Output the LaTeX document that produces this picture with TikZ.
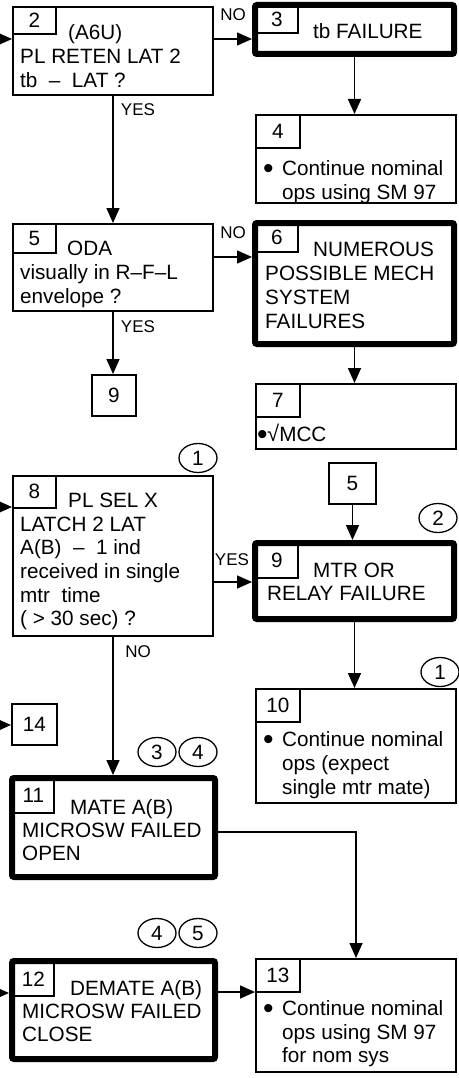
\documentclass[tikz,border=0pt]{standalone}
\usepackage{fontspec}
\setmainfont{Liberation Sans}
\usetikzlibrary{arrows.meta,shapes.geometric}
\newcommand\msz{\fontsize{20.7pt}{24pt}\selectfont}
\newcommand\lsz{\fontsize{17pt}{20pt}\selectfont}
\newcommand\frst{\rule{0pt}{18pt}}
\newcommand\bigbul{\raisebox{-3pt}{\scalebox{1.45}{•}}}
\begin{document}
\begin{tikzpicture}[x=1pt,y=-1pt,
  bx/.style 2 args={draw,line width=1.6pt,minimum width={#1pt-1.6pt},minimum height={#2pt-1.6pt},inner sep=0pt,anchor=north west,font=\msz},
  tbx/.style 2 args={draw,line width=6pt,rounded corners=2pt,minimum width={#1pt-6pt},minimum height={#2pt-6pt},inner sep=0pt,anchor=north west},
  tab/.style 2 args={draw,line width=1.6pt,minimum width={#1pt},minimum height={#2pt},inner sep=0pt,anchor=north west,font=\msz},
  txt/.style={anchor=north west,inner sep=0pt,align=left,font=\msz},
  lbl/.style={inner sep=0pt,font=\lsz},
  circ/.style={draw,ellipse,line width=1.3pt,minimum width=38pt,minimum height=29pt,inner sep=0pt,font=\msz},
  arr/.style={line width=1.6pt,-{Triangle[length=15pt,width=13pt]}}
]
\useasboundingbox (0,0) rectangle (458,1078);

% box 2
\node[bx={202}{90}] (b2) at (12,6) {};
\node[tab={43}{27}] (n2) at (12,6) {2};
\node[txt] (t2) at (20,21) {\frst\hspace*{48pt}(A6U)\\PL RETEN LAT 2\\tb\ \ –\ \ LAT ?};
% box 3
\node[tbx={205}{55}] (b3) at (252,2) {};
\node[tab={42}{27}] (n3) at (255,5) {3};
\node[txt] (t3) at (313,20) {\frst tb FAILURE};
% box 4
\node[bx={202}{90}] (b4) at (255,114) {};
\node[tab={44}{33}] (n4) at (255,114) {4};
\node[txt] (t4) at (263,157) {\frst\makebox[19pt][l]{\bigbul}Continue nominal\\\hspace*{19pt}ops using SM 97};
% box 5
\node[bx={202}{89}] (b5) at (12,223) {};
\node[tab={43}{29}] (n5) at (12,223) {5};
\node[txt] (t5) at (20,237) {\frst\hspace*{47pt}ODA\\visually in R–F–L\\envelope ?};
% box 6
\node[tbx={205}{127}] (b6) at (252,220) {};
\node[tab={42}{28}] (n6) at (255,223) {6};
\node[txt] (t6) at (265,238) {\frst\hspace*{48pt}NUMEROUS\\POSSIBLE MECH\\SYSTEM\\FAILURES};
% small 9
\node[bx={46}{43}] (s9) at (91,374) {9};
% box 7
\node[bx={202}{67}] (b7) at (255,383) {};
\node[tab={44}{33}] (n7) at (255,383) {7};
\node[txt] (t7) at (257,423) {\frst\makebox[10pt][l]{\bigbul}{\fontsize{22pt}{24pt}\selectfont √}MCC};
% box 8
\node[circ] (c1a) at (198,458) {1};
\node[bx={202}{162}] (b8) at (12,475) {};
\node[tab={43}{32}] (n8) at (12,475) {8};
\node[txt,font=\fontsize{20.7pt}{23.6pt}\selectfont] (t8) at (20,489.5) {\frst\hspace*{48pt}PL SEL X\\LATCH 2 LAT\\A(B)\ \ –\ \ 1 ind\\received in single\\mtr\ \ time\\( > 30 sec) ?};
% small 5
\node[bx={49}{43}] (s5) at (328,462) {5};
% box 9
\node[circ] (c2) at (438,518) {2};
\node[tbx={205}{82}] (b9) at (252,540) {};
\node[tab={42}{34}] (n9) at (255,543) {9};
\node[txt,font=\fontsize{20.7pt}{23pt}\selectfont] (t9) at (267,559.5) {\frst\hspace*{46pt}MTR OR\\RELAY FAILURE};
% box 10
\node[circ] (c1b) at (440,672) {1};
\node[bx={202}{116}] (b10) at (255,688) {};
\node[tab={44}{33}] (n10) at (255,688) {10};
\node[txt] (t10) at (263,728) {\frst\makebox[19pt][l]{\bigbul}Continue nominal\\\hspace*{19pt}ops (expect\\\hspace*{19pt}single mtr mate)};
% box 14
\node[bx={47}{43}] (b14) at (11,703) {14};
% box 11
\node[circ] (c3) at (157,752) {3};
\node[circ] (c4a) at (198,752) {4};
\node[tbx={209}{105}] (b11) at (9,775) {};
\node[tab={41}{34}] (n11) at (12,778) {11};
\node[txt,font=\fontsize{20.7pt}{23pt}\selectfont] (t11) at (22,796.5) {\frst\hspace*{48pt}MATE A(B)\\MICROSW FAILED\\OPEN};
% box 12
\node[circ] (c4b) at (157,933) {4};
\node[circ] (c5) at (198,933) {5};
\node[tbx={209}{104}] (b12) at (9,958) {};
\node[tab={41}{34}] (n12) at (12,961) {12};
\node[txt,font=\fontsize{20.7pt}{23pt}\selectfont] (t12) at (22,977.5) {\frst\hspace*{48pt}DEMATE A(B)\\MICROSW FAILED\\CLOSE};
% box 13
\node[bx={202}{115}] (b13) at (255,958) {};
\node[tab={44}{33}] (n13) at (255,958) {13};
\node[txt,font=\fontsize{20.7pt}{23.5pt}\selectfont] (t13) at (263,997.5) {\frst\makebox[19pt][l]{\bigbul}Continue nominal\\\hspace*{19pt}ops using SM 97\\\hspace*{19pt}for nom sys};

% labels
\node[lbl] (l1) at (233,15) {NO};
\node[lbl] (l2) at (138,110) {YES};
\node[lbl] (l3) at (233,233) {NO};
\node[lbl] (l4) at (138,327) {YES};
\node[lbl] (l5) at (232,560) {YES};
\node[lbl] (l6) at (138,652) {NO};

% connectors
\coordinate (in2) at (0,39);
\draw[arr] (in2) -- (in2 -| b2.west);
\draw[arr] (in2 -| b2.east) -- (in2 -| b3.west);
\draw[arr] (b2.south) -- (b2.south |- b5.north);
\draw[arr] (b3.south) -- (b3.south |- b4.north);
\coordinate (r56) at (0,257);
\draw[arr] (r56 -| b5.east) -- (r56 -| b6.west);
\draw[arr] (b5.south) -- (b5.south |- s9.north);
\draw[arr] (b6.south) -- (b6.south |- b7.north);
\coordinate (in8) at (0,507);
\draw[arr] (in8) -- (in8 -| b8.west);
\draw[arr] (s5.south) -- (s5.south |- b9.north);
\coordinate (r89) at (0,582);
\draw[arr] (r89 -| b8.east) -- (r89 -| b9.west);
\draw[arr] (b9.south) -- (b9.south |- b10.north);
\coordinate (in14) at (0,725);
\draw[arr] (in14) -- (in14 -| b14.west);
\draw[arr] (b8.south) -- (b8.south |- b11.north);
\coordinate (r1113) at (0,832);
\draw[arr] (r1113 -| b11.east) -| (b13.north);
\coordinate (in12) at (0,993);
\draw[arr] (in12) -- (in12 -| b12.west);
\coordinate (r1213) at (0,992);
\draw[arr] (r1213 -| b12.east) -- (r1213 -| b13.west);
\end{tikzpicture}
\end{document}
